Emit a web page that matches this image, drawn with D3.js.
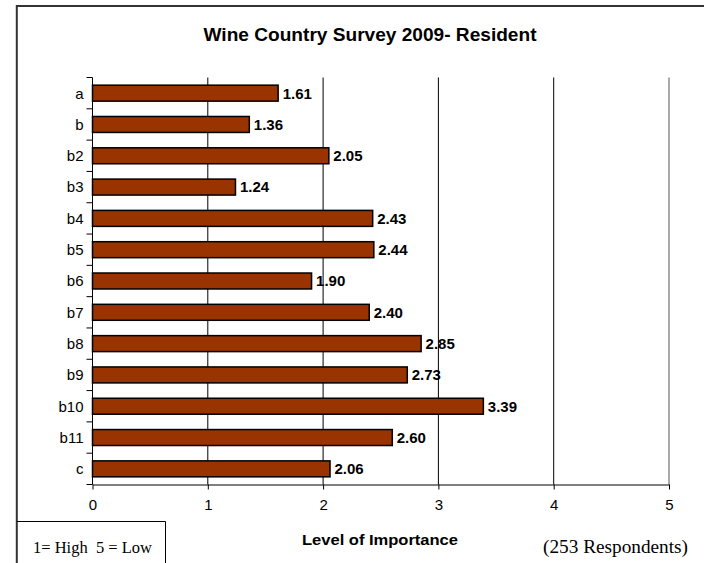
<!DOCTYPE html>
<html>
<head>
<meta charset="utf-8">
<script src="https://cdn.jsdelivr.net/npm/d3@7"></script>
<style>
  html, body { margin: 0; padding: 0; background: #fff; }
  svg { display: block; }
  text { font-family: Arial, "Liberation Sans", sans-serif; fill: #000; }
  .serif { font-family: "Times New Roman", "Liberation Serif", serif; }
</style>
</head>
<body>
<svg id="chart" width="704" height="563"></svg>
<script>
// Survey items and their mean importance scores
const categories = ["a", "b", "b2", "b3", "b4", "b5", "b6", "b7", "b8", "b9", "b10", "b11", "c"];
const scores = [1.61, 1.36, 2.05, 1.24, 2.43, 2.44, 1.90, 2.40, 2.85, 2.73, 3.39, 2.60, 2.06];
const xTicks = [0, 1, 2, 3, 4, 5];

const svg = d3.select("#chart");
const W = 704, H = 563;

// Outer frame (open on the right and bottom)
svg.append("path")
  .attr("d", `M16.8,${H} V6 H${W}`)
  .attr("fill", "none")
  .attr("stroke", "#333")
  .attr("stroke-width", 2);

svg.append("text")
  .attr("x", 370).attr("y", 41)
  .attr("text-anchor", "middle")
  .attr("font-size", 18).attr("font-weight", "bold")
  .attr("textLength", 333).attr("lengthAdjust", "spacingAndGlyphs")
  .text("Wine Country Survey 2009- Resident");

const plot = { left: 92.5, right: 669, top: 77.5, bottom: 484.5 };

const x = d3.scaleLinear().domain([0, 5]).range([plot.left, plot.right]);
const y = d3.scaleBand().domain(categories).range([plot.top, plot.bottom])
  .paddingInner(0.49).paddingOuter(0.245);

// Vertical gridlines
svg.append("g").selectAll("line")
  .data(xTicks.filter(t => t > 0))
  .join("line")
  .attr("x1", d => x(d)).attr("x2", d => x(d))
  .attr("y1", plot.top).attr("y2", plot.bottom)
  .attr("stroke", d => d === 5 ? "#555" : "#000")
  .attr("stroke-width", 1);

// Bars
const rows = categories.map((c, i) => ({ cat: c, val: scores[i] }));
svg.append("g").selectAll("rect")
  .data(rows)
  .join("rect")
  .attr("x", x(0))
  .attr("y", d => y(d.cat))
  .attr("width", d => x(d.val) - x(0))
  .attr("height", y.bandwidth())
  .attr("fill", "#993300")
  .attr("stroke", "#000")
  .attr("stroke-width", 1.5);

// Value labels
svg.append("g").selectAll("text")
  .data(rows)
  .join("text")
  .attr("x", d => x(d.val) + 4.5)
  .attr("y", d => y(d.cat) + y.bandwidth() / 2)
  .attr("dy", "0.36em")
  .attr("font-size", 15).attr("font-weight", "bold")
  .text(d => d.val.toFixed(2));

// Category axis
const yAxisBand = d3.scaleBand().domain(categories).range([plot.top, plot.bottom]);
const yAxis = svg.append("g").attr("transform", `translate(${plot.left},0)`);
yAxis.append("line")
  .attr("x1", 0).attr("x2", 0).attr("y1", plot.top).attr("y2", plot.bottom)
  .attr("stroke", "#000");
yAxis.selectAll("line.tick")
  .data(categories.map(c => yAxisBand(c)).concat([plot.bottom]))
  .join("line").attr("class", "tick")
  .attr("x1", -6).attr("x2", 0)
  .attr("y1", d => d).attr("y2", d => d)
  .attr("stroke", "#000");
yAxis.selectAll("text")
  .data(categories)
  .join("text")
  .attr("x", -9)
  .attr("y", c => yAxisBand(c) + yAxisBand.bandwidth() / 2)
  .attr("dy", "0.36em")
  .attr("text-anchor", "end")
  .attr("font-size", 15)
  .text(c => c);

// Value axis
const xAxis = svg.append("g")
  .attr("transform", `translate(0,${plot.bottom})`)
  .call(d3.axisBottom(x).tickValues(xTicks).tickFormat(d3.format("d")).tickSize(5).tickSizeOuter(0));
xAxis.select(".domain").attr("stroke", "#000");
xAxis.selectAll(".tick line").attr("stroke", "#000");
xAxis.selectAll(".tick text")
  .attr("font-family", "Arial, 'Liberation Sans', sans-serif")
  .attr("font-size", 15)
  .attr("fill", "#000")
  .attr("y", 0)
  .attr("dy", 25.5);

svg.append("text")
  .attr("x", 380).attr("y", 545)
  .attr("text-anchor", "middle")
  .attr("font-size", 14).attr("font-weight", "bold")
  .attr("textLength", 156).attr("lengthAdjust", "spacingAndGlyphs")
  .text("Level of Importance");

svg.append("text")
  .attr("class", "serif")
  .attr("x", 615.5).attr("y", 553)
  .attr("text-anchor", "middle")
  .attr("font-size", 19)
  .attr("textLength", 145).attr("lengthAdjust", "spacingAndGlyphs")
  .text("(253 Respondents)");

// Scale key box
svg.append("path")
  .attr("d", `M16.8,521.5 H165.5 V${H}`)
  .attr("fill", "none")
  .attr("stroke", "#000")
  .attr("stroke-width", 1);
svg.append("text")
  .attr("class", "serif")
  .attr("x", 92.5).attr("y", 553)
  .attr("text-anchor", "middle")
  .attr("font-size", 16.5)
  .attr("xml:space", "preserve")
  .attr("textLength", 119).attr("lengthAdjust", "spacingAndGlyphs")
  .text("1= High  5 = Low");
</script>
</body>
</html>
